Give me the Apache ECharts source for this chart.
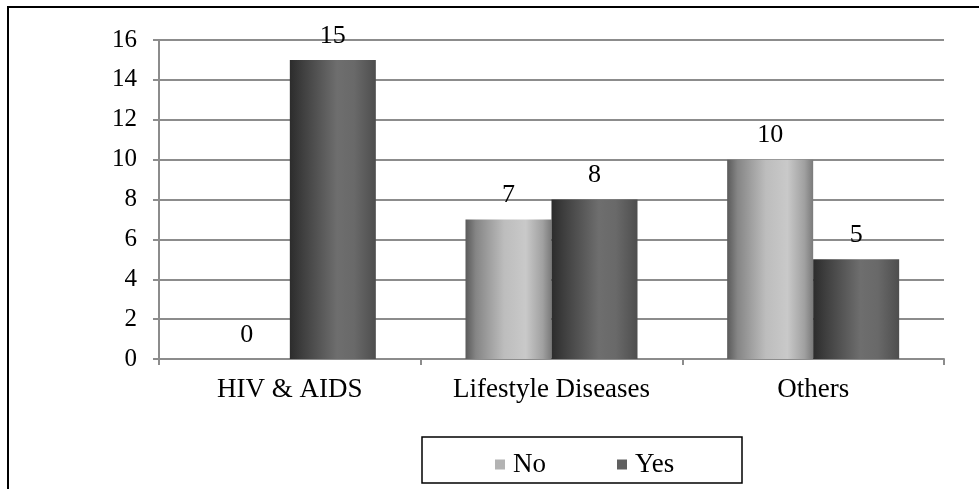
<!DOCTYPE html>
<html>
<head>
<meta charset="utf-8">
<style>
  html, body { margin: 0; padding: 0; background: #fff; }
  #chart { width: 979px; height: 489px; }
</style>
<script src="https://cdn.jsdelivr.net/npm/echarts@6/dist/echarts.min.js"></script>
</head>
<body>
<div id="chart"></div>
<script>
// Disease categories and counts per answer
const categories = ['HIV & AIDS', 'Lifestyle Diseases', 'Others'];
const noValues = [0, 7, 10];
const yesValues = [15, 8, 5];
const yTicks = [0, 2, 4, 6, 8, 10, 12, 14, 16];

const FONT = '"Liberation Serif", "Times New Roman", serif';
const NUM_FS = 25;
const TEXT_FS = 27;

function hGrad(stops) {
  return new echarts.graphic.LinearGradient(0, 0, 1, 0,
    stops.map(([offset, color]) => ({ offset, color })));
}

// Cylinder-like shading for each series
const noFill = hGrad([[0, '#5a5a5a'], [0.12, '#858585'], [0.45, '#bdbdbd'], [0.7, '#c9c9c9'], [0.9, '#a0a0a0'], [1, '#7a7a7a']]);
const yesFill = hGrad([[0, '#2c2c2c'], [0.15, '#3f3f3f'], [0.55, '#6e6e6e'], [0.75, '#696969'], [1, '#4e4e4e']]);

const chart = echarts.init(document.getElementById('chart'), null, { renderer: 'canvas' });

const labelStyle = {
  show: true,
  position: 'top',
  distance: 11,
  color: '#000',
  fontFamily: FONT,
  fontSize: 26
};

chart.setOption({
  animation: false,
  backgroundColor: '#fff',
  graphic: [
    {
      type: 'rect',
      shape: { x: 8, y: 7, width: 990, height: 500 },
      style: { fill: 'none', stroke: '#000', lineWidth: 2 },
      silent: true, z: 0
    },
    {
      type: 'rect',
      shape: { x: 422, y: 437, width: 320, height: 46 },
      style: { fill: 'none', stroke: '#000', lineWidth: 1.5 },
      silent: true, z: 0
    }
  ],
  grid: { left: 159, right: 35, top: 40, bottom: 130, containLabel: false },
  legend: {
    data: [
      { name: 'No', itemStyle: { color: '#b3b3b3' } },
      { name: 'Yes', itemStyle: { color: '#606060' } }
    ],
    left: 490,
    top: 446,
    itemWidth: 10,
    itemHeight: 10,
    itemGap: 71,
    icon: 'rect',
    textStyle: { fontFamily: FONT, fontSize: TEXT_FS, color: '#000', padding: [0, 0, 0, 3] }
  },
  xAxis: {
    type: 'category',
    data: categories,
    axisLine: { lineStyle: { color: '#8c8c8c', width: 2 } },
    axisTick: { show: true, length: 6, lineStyle: { color: '#8c8c8c', width: 2 } },
    axisLabel: { color: '#000', fontFamily: FONT, fontSize: TEXT_FS, margin: 17 }
  },
  yAxis: {
    type: 'value',
    min: yTicks[0],
    max: yTicks[yTicks.length - 1],
    interval: 2,
    axisLine: { show: true, lineStyle: { color: '#8c8c8c', width: 2 } },
    axisTick: { show: true, length: 6, lineStyle: { color: '#8c8c8c', width: 2 } },
    splitLine: { lineStyle: { color: '#8c8c8c', width: 2 } },
    axisLabel: { color: '#000', fontFamily: FONT, fontSize: NUM_FS, margin: 22 }
  },
  series: [
    {
      name: 'No',
      type: 'bar',
      data: noValues,
      barWidth: 86,
      barGap: '0%',
      itemStyle: { color: noFill },
      label: labelStyle
    },
    {
      name: 'Yes',
      type: 'bar',
      data: yesValues,
      barWidth: 86,
      itemStyle: { color: yesFill },
      label: labelStyle
    }
  ]
});
</script>
</body>
</html>
